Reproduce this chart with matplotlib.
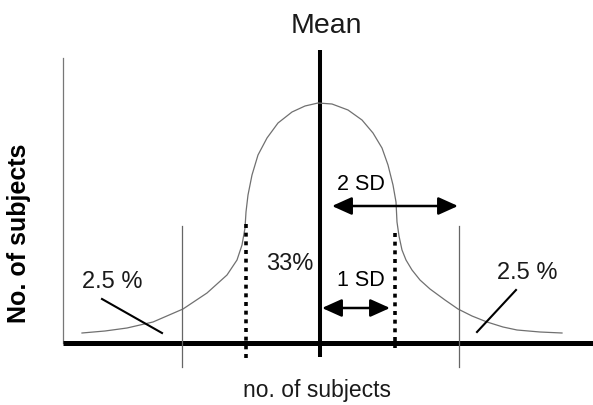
import matplotlib.pyplot as plt

# diagram drawn in a pixel-like frame: x to the right, y downward (0..593, 0..405)
curve_x = [82, 105, 127, 153, 183, 207, 227, 237, 242, 245, 246, 248, 252, 258, 267, 278, 292, 305, 318,
           332, 348, 362, 373, 382, 388, 393, 396, 397, 399, 402, 406, 412, 420, 430, 445, 458, 472,
           487, 503, 517, 540, 562]
curve_y = [333, 331, 328, 322, 309, 293, 275, 260, 245, 228, 212, 195, 175, 155, 138, 123, 112, 106, 103,
           104, 110, 120, 133, 148, 165, 185, 202, 222, 236, 250, 260, 270, 280, 289, 300, 309, 316,
           322, 327, 330, 332, 333]

mean_x = 320
sd_dotted_x = [246, 395]
sd_dotted_top = [224, 233]
sd_dotted_bottom = [362, 348]
two_sd_x = [182, 459]

base_y = 343
axis_left_x = 63

arrow_2sd = (332, 458, 206)
arrow_1sd = (322, 390, 308)

tail_lines = [((102, 162), (299, 333)), ((516, 477), (290, 332))]

plt.rcParams['font.family'] = ['Liberation Sans', 'DejaVu Sans']

fig = plt.figure(figsize=(5.93, 4.05), dpi=100)
ax = fig.add_axes([0, 0, 1, 1])
ax.set_xlim(0, 593)
ax.set_ylim(405, 0)
ax.axis('off')

# axes of the diagram
ax.plot([axis_left_x, axis_left_x], [58, base_y], color='#777777', lw=0.9)
ax.plot([axis_left_x, 593], [base_y, base_y], color='black', lw=3.6, solid_capstyle='butt')
ax.plot([mean_x, mean_x], [50, 357], color='black', lw=2.9, solid_capstyle='butt')

# bell curve
ax.plot(curve_x, curve_y, color='#707070', lw=0.9)

# +-2 SD thin lines
for x in two_sd_x:
    ax.plot([x, x], [226, 367], color='#666666', lw=0.9)

# +-1 SD dotted lines
for x, t, b in zip(sd_dotted_x, sd_dotted_top, sd_dotted_bottom):
    ax.plot([x, x], [t, b], color='black', lw=2.6, linestyle=(0, (1.1, 1.3)), dash_capstyle='butt')

# arrows
for x0, x1, y in (arrow_2sd, arrow_1sd):
    ax.annotate('', xy=(x1, y), xytext=(x0, y),
                arrowprops=dict(arrowstyle='<|-|>,head_length=0.6,head_width=0.27',
                                color='black', lw=1.8, shrinkA=0, shrinkB=0,
                                mutation_scale=20))

# tail pointers
for xs, ys in tail_lines:
    ax.plot(xs, ys, color='black', lw=1.5)

# text
ax.text(326, 26, 'Mean', fontsize=20.5, ha='center', va='center', color='#1a1a1a')
ax.text(361, 185, '2 SD', fontsize=15.5, ha='center', va='center', color='black')
ax.text(361, 281, '1 SD', fontsize=15.5, ha='center', va='center', color='black')
ax.text(290, 264, '33%', fontsize=17, ha='center', va='center', color='#1a1a1a')
ax.text(112, 282, '2.5 %', fontsize=17, ha='center', va='center', color='#1a1a1a')
ax.text(527, 273, '2.5 %', fontsize=17, ha='center', va='center', color='#1a1a1a')
ax.text(317, 391, 'no. of subjects', fontsize=16.5, ha='center', va='center', color='#1a1a1a')
ax.text(19, 233, 'No. of subjects', fontsize=18, fontweight='bold', rotation=90,
        ha='center', va='center', color='black')

fig.savefig('out.png', dpi=100)
